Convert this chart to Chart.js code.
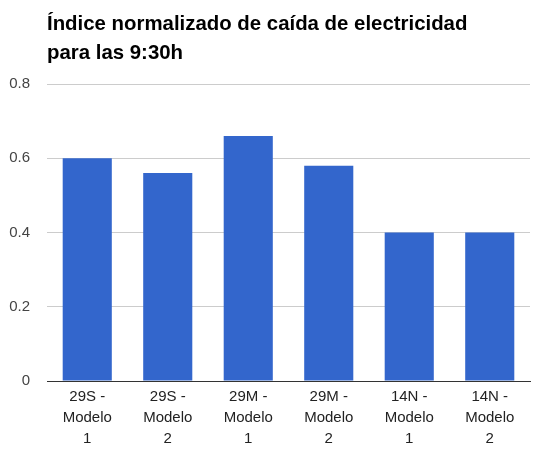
<!DOCTYPE html>
<html>
<head>
<meta charset="utf-8">
<script src="https://cdn.jsdelivr.net/npm/chart.js@4"></script>
<style>
  html, body { margin: 0; padding: 0; background: #fff; }
  #wrap { position: relative; width: 539px; height: 455px; overflow: hidden; }
  #title { position: absolute; left: 47px; top: 9px; font: bold 20.4px "Liberation Sans", Arial, sans-serif; color: #000; line-height: 29px; }
</style>
</head>
<body>
<div id="wrap">
  <div id="title">Índice normalizado de caída de electricidad<br>para las 9:30h</div>
  <canvas id="chart" width="539" height="455"></canvas>
</div>
<script>
// categories and values
const categories = [
    ['29S -', 'Modelo', '1'],
    ['29S -', 'Modelo', '2'],
    ['29M -', 'Modelo', '1'],
    ['29M -', 'Modelo', '2'],
    ['14N -', 'Modelo', '1'],
    ['14N -', 'Modelo', '2']
];
const indexValues = [0.60, 0.56, 0.66, 0.58, 0.40, 0.40];
const yTicks = [0, 0.2, 0.4, 0.6, 0.8];

const ctx = document.getElementById('chart').getContext('2d');
const chart = new Chart(ctx, {
    type: 'bar',
    data: {
        labels: categories,
        datasets: [{
            label: 'Índice',
            data: indexValues,
            backgroundColor: '#3366cc',
            categoryPercentage: 1,
            barPercentage: 0.61
        }]
    },
    options: {
        responsive: false,
        animation: false,
        layout: { padding: { top: 84, right: 9, bottom: 9, left: 0 } },
        plugins: {
            legend: { display: false },
            tooltip: { enabled: false }
        },
        scales: {
            x: {
                grid: { display: false },
                border: { color: '#333', width: 1 },
                ticks: {
                    color: '#222',
                    font: { family: 'Liberation Sans', size: 15, lineHeight: 1.4 },
                    maxRotation: 0,
                    padding: -3
                }
            },
            y: {
                min: 0,
                max: 0.8,
                afterBuildTicks: axis => { axis.ticks = yTicks.map(v => ({ value: v })); },
                afterFit: axis => { axis.width = 47; },
                grid: { color: '#ccc', drawTicks: false },
                border: { display: false },
                ticks: {
                    color: '#444',
                    font: { family: 'Liberation Sans', size: 15 },
                    padding: 17,
                    callback: v => String(v)
                }
            }
        }
    }
});
</script>
</body>
</html>
